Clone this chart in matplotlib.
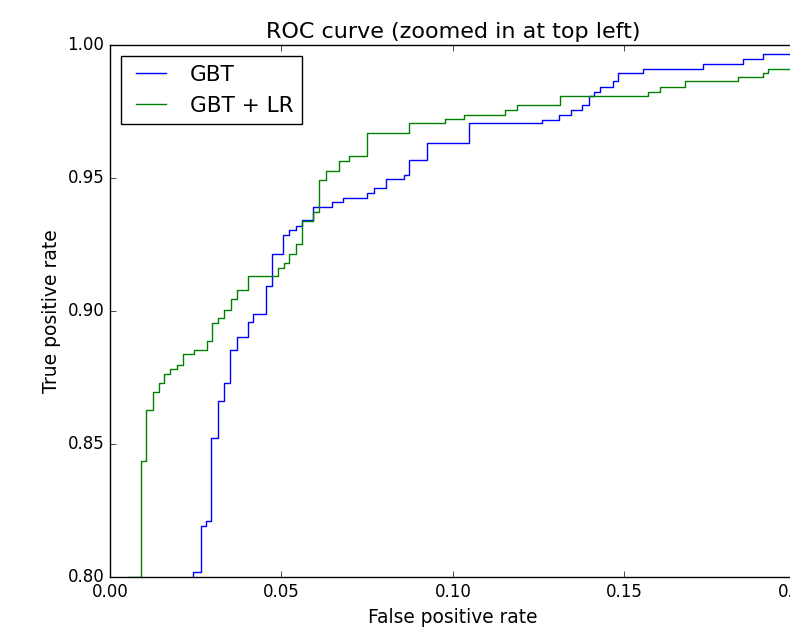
import matplotlib
matplotlib.use('Agg')
import matplotlib.pyplot as plt

# ROC step points: (fpr where a horizontal run starts, tpr level of that run)
gbt_fpr = [0.0, 0.0243, 0.0264, 0.0280, 0.0295, 0.0315, 0.0332, 0.0351, 0.0369, 0.0403,
           0.0418, 0.0455, 0.0471, 0.0505, 0.0523, 0.0542, 0.0559, 0.0593, 0.0646, 0.0680,
           0.0750, 0.0770, 0.0805, 0.0857, 0.0873, 0.0925, 0.1048, 0.1259, 0.1310, 0.1343,
           0.1377, 0.1397, 0.1412, 0.1429, 0.1466, 0.1482, 0.1553, 0.1728, 0.1846, 0.1903, 1.0]
gbt_tpr = [0.0, 0.802, 0.8193, 0.8211, 0.8524, 0.8662, 0.8730, 0.8853, 0.8903, 0.8958,
           0.8991, 0.9095, 0.9214, 0.9286, 0.9305, 0.9322, 0.9342, 0.9391, 0.9409, 0.9426,
           0.9446, 0.9464, 0.9496, 0.9514, 0.9568, 0.9634, 0.9706, 0.9718, 0.9738, 0.9758,
           0.9774, 0.9808, 0.9824, 0.9843, 0.9864, 0.9897, 0.9912, 0.9929, 0.9947, 0.9969, 1.0]

gbt_lr_fpr = [0.0, 0.0053, 0.0090, 0.0104, 0.0126, 0.0143, 0.0158, 0.0176, 0.0194, 0.0212,
              0.0246, 0.0282, 0.0297, 0.0316, 0.0332, 0.0352, 0.0369, 0.0403, 0.0491, 0.0508,
              0.0523, 0.0542, 0.0559, 0.0593, 0.0610, 0.0631, 0.0668, 0.0698, 0.0750, 0.0873,
              0.0977, 0.1032, 0.1152, 0.1187, 0.1312, 0.1569, 0.1603, 0.1676, 0.1832, 0.1903,
              0.1919, 1.0]
gbt_lr_tpr = [0.0, 0.800, 0.8436, 0.8628, 0.8695, 0.8729, 0.8763, 0.8782, 0.8798, 0.8838,
              0.8853, 0.8886, 0.8956, 0.8973, 0.9006, 0.9045, 0.9078, 0.9133, 0.9164, 0.9182,
              0.9214, 0.9252, 0.9339, 0.9373, 0.9495, 0.9528, 0.9566, 0.9583, 0.9670, 0.9706,
              0.9721, 0.9738, 0.9758, 0.9774, 0.9809, 0.9824, 0.9843, 0.9864, 0.9881, 0.9897,
              0.9912, 1.0]

plt.style.use('classic')
plt.rcParams['font.family'] = ['DejaVu Sans']

fig = plt.figure(figsize=(7.9, 6.34), dpi=100, facecolor='white')
# right edge of the axes runs slightly past the figure, as in the cropped original
ax = fig.add_axes([0.1392, 0.0899, 0.8684, 0.8386])

ax.step(gbt_fpr, gbt_tpr, where='post', color='b', lw=1, label='GBT')
ax.step(gbt_lr_fpr, gbt_lr_tpr, where='post', color='g', lw=1, label='GBT + LR')

ax.set_xlim(0, 0.2)
ax.set_ylim(0.8, 1)
ax.set_xticks([0.0, 0.05, 0.10, 0.15, 0.20])
ax.set_yticks([0.80, 0.85, 0.90, 0.95, 1.00])
ax.set_xticklabels(['0.00', '0.05', '0.10', '0.15', '0.20'])
ax.set_yticklabels(['0.80', '0.85', '0.90', '0.95', '1.00'])
ax.set_xlabel('False positive rate', fontsize=13.4)
ax.set_ylabel('True positive rate', fontsize=13.5)
ax.set_title('ROC curve (zoomed in at top left)', fontsize=16)
ax.legend(loc='upper left', fontsize=15.6)

fig.savefig('out.png', dpi=100, facecolor='white')
